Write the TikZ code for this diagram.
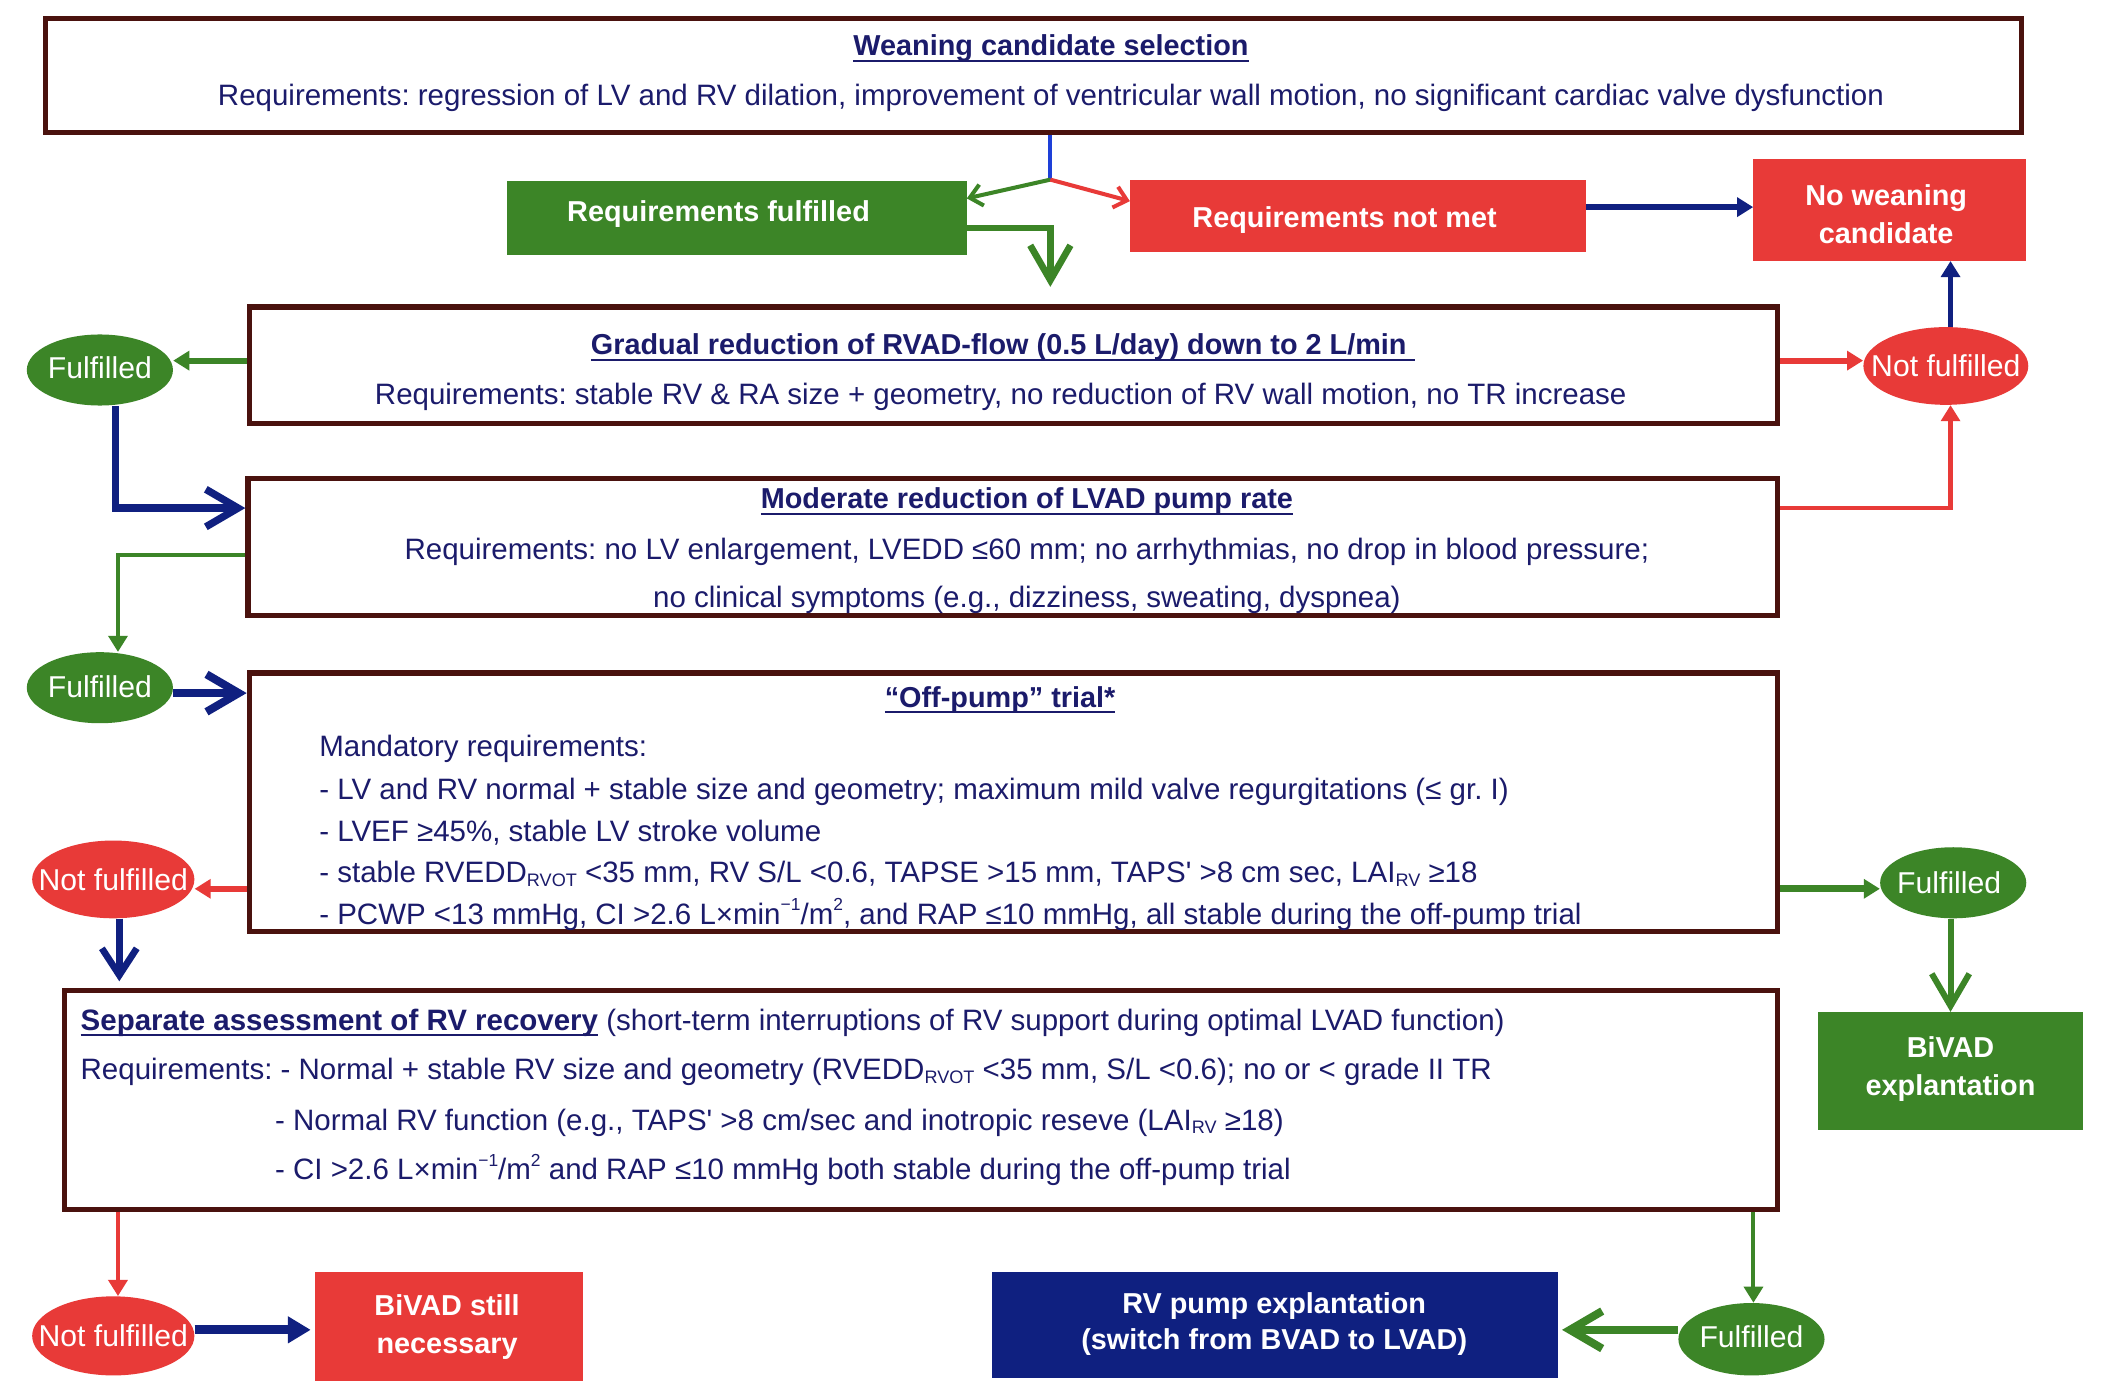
\documentclass[tikz,border=0pt]{standalone}
\usepackage{fontspec}
\usepackage{graphicx}
\setmainfont{Liberation Sans}
\usetikzlibrary{arrows.meta,shapes.geometric}
\definecolor{txt}{HTML}{1B1B6B}
\definecolor{brd}{HTML}{4A120E}
\definecolor{gfill}{HTML}{3C8527}
\definecolor{rfill}{HTML}{E83A38}
\definecolor{nfill}{HTML}{0F2080}
\definecolor{ag}{HTML}{3C8527}
\definecolor{ar}{HTML}{E83A38}
\definecolor{an}{HTML}{102080}
\definecolor{blueJ}{HTML}{1E40D8}
\newcommand\myfs{\fontsize{22}{26}\selectfont\frenchspacing}
\newcommand\myfb{\fontsize{21.5}{26}\selectfont\frenchspacing}
\newcommand\myfl{\fontsize{22.5}{26}\selectfont}
\newsavebox\ulbox
\newcommand\myul[1]{\sbox\ulbox{#1}\rlap{\rule[-4.5pt]{\wd\ulbox}{1.5pt}}\usebox\ulbox}
\newcommand\sbs[1]{\raisebox{-2.5pt}{\fontsize{13.5}{13}\selectfont #1}}
\newcommand\sps[1]{\raisebox{10pt}{\fontsize{13}{13}\selectfont #1}}
\begin{document}
\begin{tikzpicture}[x=1pt,y=-1pt,
  bframe/.style={draw=brd, line width=4pt, inner sep=0pt, rectangle},
  cbox/.style={inner sep=0pt, rectangle, fill=#1},
  myoval/.style={ellipse, inner sep=0pt, fill=#1},
  tx/.style={text=txt, inner sep=0pt, font=\myfs},
  wt/.style={text=white, inner sep=0pt, font=\myfb\bfseries},
  lab/.style={text=white, inner sep=0pt, font=\myfl},
  tri/.style={-{Triangle[length=12pt,width=14pt]}},
  trib/.style={-{Triangle[length=17pt,width=19pt]}},
  bigbarb/.style={-{Straight Barb[length=24pt,width=28pt]}},
  smallbarb/.style={-{Straight Barb[length=9pt,width=16pt]}}
]
\useasboundingbox (0,0) rectangle (1568,1038.3);
\fill[white] (0,0) rectangle (1568,1038.3);

% ---- framed boxes
\node[bframe, minimum width=1474pt, minimum height=85pt] (b1) at (771,56.5) {};
\node[bframe, minimum width=1140pt, minimum height=87pt] (b2) at (756,272.5) {};
\node[bframe, minimum width=1141pt, minimum height=102pt] (b3) at (755.5,408) {};
\node[bframe, minimum width=1140pt, minimum height=193pt] (b4) at (756,598.5) {};
\node[bframe, minimum width=1278pt, minimum height=163pt] (b5) at (687,820.5) {};

% ---- texts in framed boxes
\node[tx, anchor=base, font=\myfb] (t1a) at (784,41.5) {\textbf{\myul{Weaning candidate selection}}};
\node[tx, anchor=base] (t1b) at (784,78.5) {Requirements: regression of LV and RV dilation, improvement of ventricular wall motion, no significant cardiac valve dysfunction};

\node[tx, anchor=base, font=\myfb] (t2a) at (748,264.5) {\textbf{\myul{Gradual reduction of RVAD-flow (0.5 L/day) down to 2 L/min\ }}};
\node[tx, anchor=base] (t2b) at (746.5,301.5) {Requirements: stable RV \& RA size + geometry, no reduction of RV wall motion, no TR increase};

\node[tx, anchor=base, font=\myfb] (t3a) at (766,379.5) {\textbf{\myul{Moderate reduction of LVAD pump rate}}};
\node[tx, anchor=base] (t3b) at (766,417.5) {Requirements: no LV enlargement, LVEDD ≤60 mm; no arrhythmias, no drop in blood pressure;};
\node[tx, anchor=base] (t3c) at (766,453.5) {no clinical symptoms (e.g., dizziness, sweating, dyspnea)};

\node[tx, anchor=base, font=\myfb] (t4a) at (746,527.5) {\textbf{\myul{“Off-pump” trial*}}};
\node[tx, anchor=base west] (t4b) at (238,564.5) {Mandatory requirements:};
\node[tx, anchor=base west] (t4c) at (238,596.5) {- LV and RV normal + stable size and geometry; maximum mild valve regurgitations (≤ gr. I)};
\node[tx, anchor=base west] (t4d) at (238,627.5) {- LVEF ≥45\%, stable LV stroke volume};
\node[tx, anchor=base west] (t4e) at (238,658.5) {- stable RVEDD\sbs{RVOT} <35 mm, RV S/L <0.6, TAPSE >15 mm, TAPS\textquotesingle{} >8 cm sec, LAI\sbs{RV} ≥18};
\node[tx, anchor=base west] (t4f) at (238,689.5) {- PCWP <13 mmHg, CI >2.6 L×min\sps{−1}/m\sps{2}, and RAP ≤10 mmHg, all stable during the off-pump trial};

\node[tx, anchor=base west] (t5a) at (60,768.5) {\textbf{\myul{Separate assessment of RV recovery}} (short-term interruptions of RV support during optimal LVAD function)};
\node[tx, anchor=base west] (t5b) at (60,805.5) {Requirements: - Normal + stable RV size and geometry (RVEDD\sbs{RVOT} <35 mm, S/L <0.6); no or < grade II TR};
\node[tx, anchor=base west] (t5c) at (205,843) {- Normal RV function (e.g., TAPS\textquotesingle{} >8 cm/sec and inotropic reseve (LAI\sbs{RV} ≥18)};
\node[tx, anchor=base west] (t5d) at (205,880) {- CI >2.6 L×min\sps{−1}/m\sps{2} and RAP ≤10 mmHg both stable during the off-pump trial};

% ---- coloured boxes
\node[cbox=gfill, minimum width=343pt, minimum height=55pt] (gf) at (549.5,162.5) {};
\node[wt, anchor=base] (gft) at (536,165.5) {Requirements fulfilled};
\node[cbox=rfill, minimum width=340pt, minimum height=54pt] (rn) at (1013,161) {};
\node[wt, anchor=base] (rnt) at (1003,169.5) {Requirements not met};
\node[cbox=rfill, minimum width=203pt, minimum height=76pt] (nw) at (1409.5,156.5) {};
\node[wt, anchor=base] (nwt1) at (1407,153) {No weaning};
\node[wt, anchor=base] (nwt2) at (1407,181.5) {candidate};
\node[cbox=gfill, minimum width=198pt, minimum height=88pt] (bx) at (1455,799) {};
\node[wt, anchor=base] (bxt1) at (1455,789) {BiVAD};
\node[wt, anchor=base] (bxt2) at (1455,817.5) {explantation};
\node[cbox=rfill, minimum width=200pt, minimum height=81pt] (bs) at (335,989.5) {};
\node[wt, anchor=base] (bst1) at (333.5,981) {BiVAD still};
\node[wt, anchor=base] (bst2) at (333.5,1009.5) {necessary};
\node[cbox=nfill, minimum width=422pt, minimum height=79pt] (rv) at (951,988.5) {};
\node[wt, anchor=base] (rvt1) at (950.5,979.5) {RV pump explantation};
\node[wt, anchor=base] (rvt2) at (950.5,1006.5) {(switch from BVAD to LVAD)};

% ---- ovals
\node[myoval=gfill, minimum width=109pt, minimum height=53pt] (F1) at (74.5,276) {};
\node[lab] at ([yshift=2pt]F1) {Fulfilled};
\node[myoval=rfill, minimum width=123pt, minimum height=58pt] (NF1) at (1451.5,273) {};
\node[lab] at (NF1) {Not fulfilled};
\node[myoval=gfill, minimum width=109pt, minimum height=53pt] (F2) at (74.5,513) {};
\node[lab] at ([yshift=1pt]F2) {Fulfilled};
\node[myoval=rfill, minimum width=121pt, minimum height=58pt] (NF2) at (84.5,656) {};
\node[lab] at (NF2) {Not fulfilled};
\node[myoval=gfill, minimum width=109pt, minimum height=53pt] (F3) at (1457,658.5) {};
\node[lab] at ([xshift=-3pt]F3) {Fulfilled};
\node[myoval=rfill, minimum width=121pt, minimum height=59pt] (NF3) at (84.5,996.5) {};
\node[lab] at (NF3) {Not fulfilled};
\node[myoval=gfill, minimum width=109pt, minimum height=54pt] (F4) at (1306.5,999) {};
\node[lab] at ([yshift=2pt]F4) {Fulfilled};

% ---- connectors
\coordinate (J) at (783.5,134);
\draw[blueJ, line width=3pt] (b1.south -| J) -- (J);
\draw[ag, line width=3pt, smallbarb] (J) -- (gf.east |- 0,148);
\draw[ar, line width=3pt, smallbarb] (J) -- (rn.west |- 0,150);
\draw[ag, line width=5pt, -{Straight Barb[length=26pt,width=30pt]}, shorten >=13pt] (gf.east |- 0,170) -| (b2.north -| J);
\draw[an, line width=4.5pt, tri] (rn.east |- 0,154.5) -- (nw.west |- 0,154.5);
\draw[ag, line width=4.5pt, tri] (b2.west |- 0,269) -- (F1.east |- 0,269);
\draw[an, line width=5.5pt, bigbarb] (F1.south -| 86,0) |- (b3.west |- 0,379);
\draw[ar, line width=4.5pt, tri] (b2.east |- 0,269) -- (NF1.west |- 0,269);
\draw[an, line width=3.5pt, tri] (NF1.north -| 1455,0) -- (nw.south -| 1455,0);
\draw[ar, line width=3.5pt, tri] (b3.east |- 0,379) -| (NF1.south -| 1455,0);
\draw[ag, line width=3.5pt, tri] (b3.west |- 0,414) -| (F2.north -| 88,0);
\draw[an, line width=6pt, bigbarb] (F2.east |- 0,517) -- (b4.west |- 0,517);
\draw[ar, line width=4.5pt, tri] (b4.west |- 0,663) -- (NF2.east |- 0,663);
\draw[an, line width=5pt, -{Straight Barb[length=20pt,width=26pt]}, shorten >=5pt] (NF2.south -| 89,0) -- (b5.north -| 89,0);
\draw[ag, line width=5pt, tri] (b4.east |- 0,663) -- (F3.west |- 0,663);
\draw[ag, line width=4.5pt, bigbarb] (F3.south -| bx.north) -- (bx.north);
\draw[ar, line width=3pt, tri] (b5.south -| 88,0) -- (NF3.north -| 88,0);
\draw[an, line width=6.5pt, trib, shorten >=3pt] (NF3.east |- 0,992) -- (bs.west |- 0,992);
\draw[ag, line width=3pt, tri] (b5.south -| 1308,0) -- (F4.north -| 1308,0);
\draw[ag, line width=6pt, bigbarb, shorten >=3pt] (F4.west |- 0,992) -- (rv.east |- 0,992);
\end{tikzpicture}
\end{document}
